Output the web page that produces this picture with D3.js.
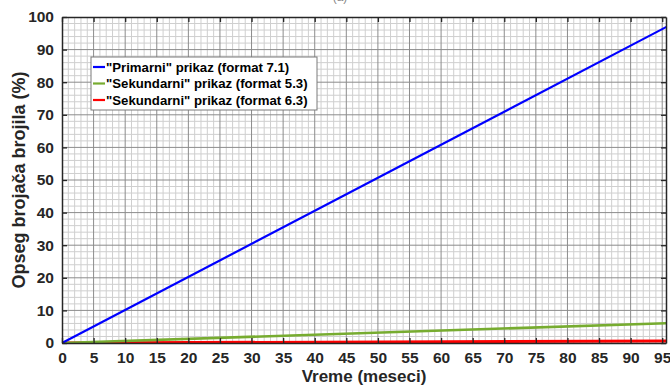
<!DOCTYPE html>
<html>
<head>
<meta charset="utf-8">
<script src="https://cdn.jsdelivr.net/npm/d3@7"></script>
<style>
  body { margin: 0; background: #fff; }
  text { font-family: "Liberation Sans", Arial, sans-serif; }
</style>
</head>
<body>
<div id="chart"></div>
<script>
// podaci očitani sa slike
const months = [0, 96];
const primarni71 = [0, 97.3];
const sekundarni53 = [0, 6.1];
const sekundarni63 = [0, 0.6];
const xTicks = d3.range(0, 96, 5);
const yTicks = d3.range(0, 101, 10);

const series = [
    { name: '"Primarni" prikaz (format 7.1)', color: "#0000ff", width: 2.2, values: primarni71 },
    { name: '"Sekundarni" prikaz (format 5.3)', color: "#77ac30", width: 2.6, values: sekundarni53 },
    { name: '"Sekundarni" prikaz (format 6.3)', color: "#ff0000", width: 3, values: sekundarni63 }
];

const width = 670, height = 387;
const margin = { left: 62, right: 4, top: 17, bottom: 44 };
const innerW = width - margin.left - margin.right;
const innerH = height - margin.top - margin.bottom;
const ink = "#262626";

const svg = d3.select("#chart").append("svg")
    .attr("width", width)
    .attr("height", height);

// naslov (odsečen na vrhu, kao na originalu)
svg.append("text")
    .attr("x", 340).attr("y", 1)
    .attr("text-anchor", "middle")
    .attr("font-size", "12px")
    .attr("fill", "#888")
    .text("(a)");

const g = svg.append("g")
    .attr("transform", `translate(${margin.left},${margin.top})`);

const x = d3.scaleLinear().domain([0, 95.6]).range([0, innerW]);
const y = d3.scaleLinear().domain([0, 100]).range([innerH, 0]);

// mreža - sporedne linije
g.append("g").selectAll("line")
    .data(d3.range(1, 96, 1).filter(d => d % 5 !== 0))
    .enter().append("line")
    .attr("x1", d => x(d)).attr("x2", d => x(d))
    .attr("y1", 0).attr("y2", innerH)
    .attr("stroke", "#cfcfcf").attr("stroke-width", 1);
g.append("g").selectAll("line")
    .data(d3.range(2, 100, 2).filter(d => d % 10 !== 0))
    .enter().append("line")
    .attr("x1", 0).attr("x2", innerW)
    .attr("y1", d => y(d)).attr("y2", d => y(d))
    .attr("stroke", "#cfcfcf").attr("stroke-width", 1);

// mreža - glavne linije
g.append("g").selectAll("line")
    .data(xTicks.filter(d => d > 0))
    .enter().append("line")
    .attr("x1", d => x(d)).attr("x2", d => x(d))
    .attr("y1", 0).attr("y2", innerH)
    .attr("stroke", "#8c8c8c").attr("stroke-width", 1);
g.append("g").selectAll("line")
    .data(yTicks.filter(d => d > 0 && d < 100))
    .enter().append("line")
    .attr("x1", 0).attr("x2", innerW)
    .attr("y1", d => y(d)).attr("y2", d => y(d))
    .attr("stroke", "#8c8c8c").attr("stroke-width", 1);

// linije
g.append("clipPath").attr("id", "clip")
    .append("rect").attr("width", innerW).attr("height", innerH + 2).attr("y", -1);

const line = d3.line()
    .x((d, i) => x(months[i]))
    .y(d => y(d));

series.slice().reverse().forEach(s => {
    g.append("path")
        .datum(s.values)
        .attr("clip-path", "url(#clip)")
        .attr("fill", "none")
        .attr("stroke", s.color)
        .attr("stroke-width", s.width)
        .attr("d", line);
});

// ose
const xAxis = g.append("g")
    .attr("transform", `translate(0,${innerH})`)
    .call(d3.axisBottom(x).tickValues(xTicks).tickSizeInner(-5).tickSizeOuter(0).tickPadding(9));
const xTop = g.append("g")
    .call(d3.axisTop(x).tickValues(xTicks).tickSizeInner(-5).tickSizeOuter(0).tickFormat(""));
const yAxis = g.append("g")
    .call(d3.axisLeft(y).tickValues(yTicks).tickSizeInner(-5).tickSizeOuter(0).tickPadding(8));
const yRight = g.append("g")
    .attr("transform", `translate(${innerW},0)`)
    .call(d3.axisRight(y).tickValues(yTicks).tickSizeInner(-5).tickSizeOuter(0).tickFormat(""));

[xAxis, xTop, yAxis, yRight].forEach(a => {
    a.select(".domain").attr("stroke", ink).attr("stroke-width", 1.5);
    a.selectAll(".tick line").attr("stroke", ink).attr("stroke-width", 1.3);
    a.selectAll(".tick text")
        .attr("fill", ink)
        .attr("font-size", "15.5px")
        .attr("font-weight", "bold")
        .attr("font-family", '"Liberation Sans", Arial, sans-serif');
});

// nazivi osa
svg.append("text")
    .attr("x", margin.left + innerW / 2)
    .attr("y", 382)
    .attr("text-anchor", "middle")
    .attr("font-size", "17px")
    .attr("font-weight", "bold")
    .attr("fill", ink)
    .text("Vreme (meseci)");

svg.append("text")
    .attr("transform", `translate(25,${margin.top + innerH / 2}) rotate(-90)`)
    .attr("text-anchor", "middle")
    .attr("font-size", "18px")
    .attr("font-weight", "bold")
    .attr("fill", ink)
    .text("Opseg brojača brojila (%)");

// legenda
const legend = svg.append("g").attr("transform", "translate(91,57)");
legend.append("rect")
    .attr("width", 226).attr("height", 53)
    .attr("fill", "#fff")
    .attr("stroke", "#7a7a7a").attr("stroke-width", 1);

series.forEach((s, i) => {
    const row = legend.append("g").attr("transform", `translate(0,${10 + i * 16.5})`);
    row.append("line")
        .attr("x1", 2).attr("x2", 14)
        .attr("stroke", s.color).attr("stroke-width", 2.2);
    row.append("text")
        .attr("x", 15).attr("y", 4.5)
        .attr("font-size", "13.2px")
        .attr("font-weight", "bold")
        .attr("fill", "#000")
        .text(s.name);
});
</script>
</body>
</html>
